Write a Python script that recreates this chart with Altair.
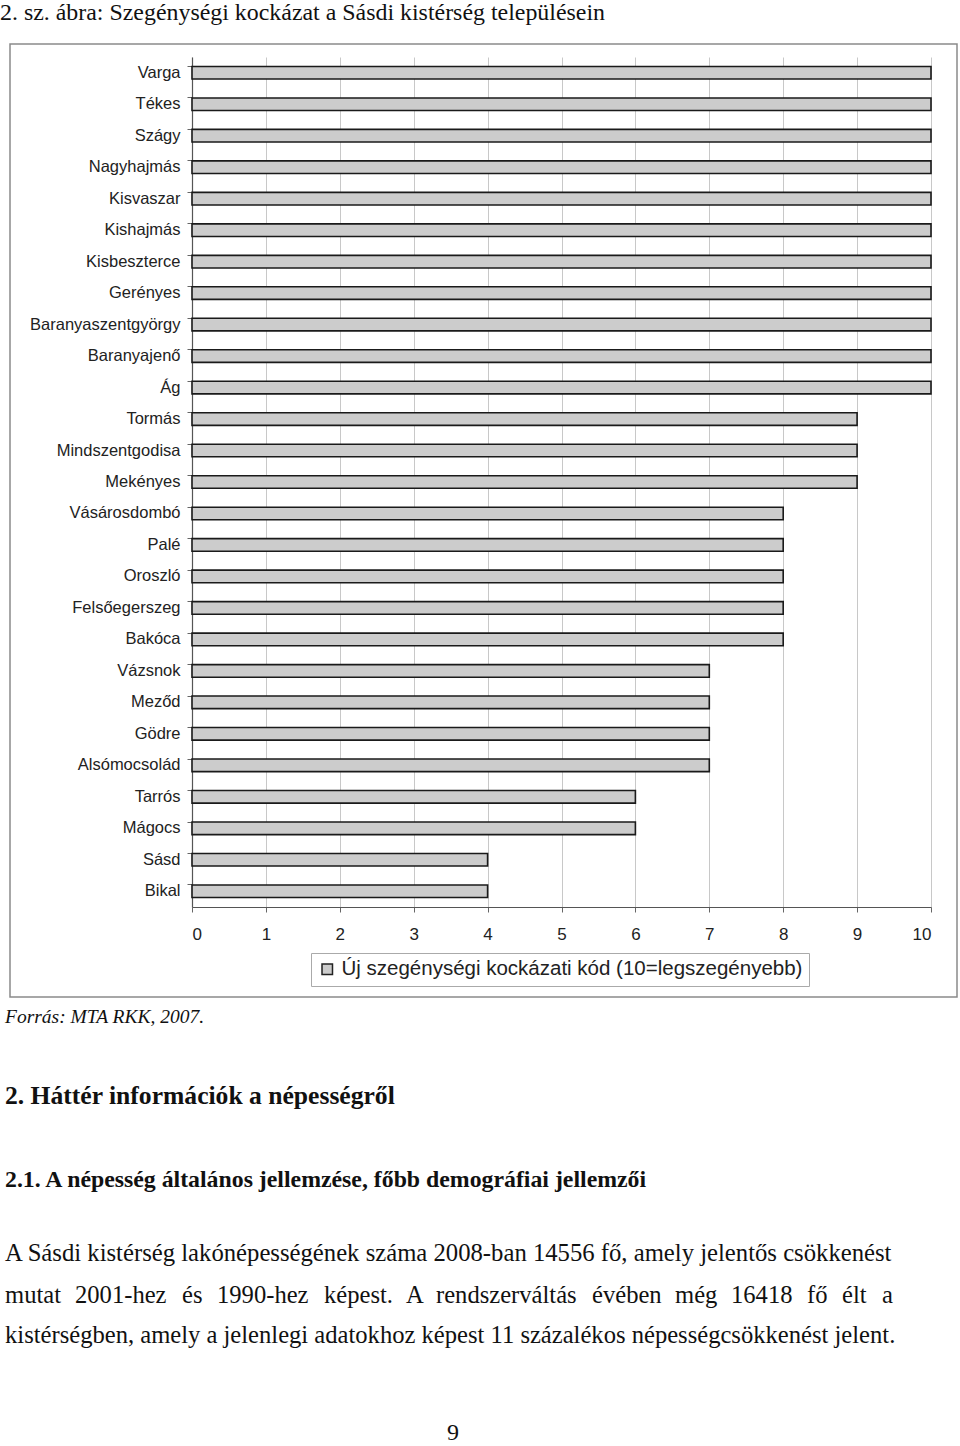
import altair as alt
import pandas as pd

# ---- data ----
towns = ["Varga", "Tékes", "Szágy", "Nagyhajmás", "Kisvaszar", "Kishajmás",
         "Kisbeszterce", "Gerényes", "Baranyaszentgyörgy", "Baranyajenő", "Ág",
         "Tormás", "Mindszentgodisa", "Mekényes", "Vásárosdombó", "Palé",
         "Oroszló", "Felsőegerszeg", "Bakóca", "Vázsnok", "Meződ", "Gödre",
         "Alsómocsolád", "Tarrós", "Mágocs", "Sásd", "Bikal"]
codes = [10, 10, 10, 10, 10, 10, 10, 10, 10, 10, 10,
         9, 9, 9, 8, 8, 8, 8, 8, 7, 7, 7, 7, 6, 6, 4, 4]
series_name = "Új szegénységi kockázati kód (10=legszegényebb)"
x_ticks = list(range(0, 11))

title_text = "2. sz. ábra: Szegénységi kockázat a Sásdi kistérség településein"
source_text = "Forrás: MTA RKK, 2007."
heading1 = "2. Háttér információk a népességről"
heading2 = "2.1. A népesség általános jellemzése, főbb demográfiai jellemzői"
para_line1 = "A Sásdi kistérség lakónépességének száma 2008-ban 14556 fő, amely jelentős csökkenést"
para_line2_words = ["mutat", "2001-hez", "és", "1990-hez", "képest.", "A", "rendszerváltás",
                    "évében", "még", "16418", "fő", "élt", "a"]
para_line2_x = [5, 75, 182, 217, 324, 406, 436, 592, 675, 731, 807, 842, 882]
para_line3 = "kistérségben, amely a jelenlegi adatokhoz képest 11 százalékos népességcsökkenést jelent."
page_no = "9"

df = pd.DataFrame({"town": towns, "code": codes, "series": [series_name] * len(towns)})

# plot area on the page
L, T, W, H = 192, 57, 739, 850
PAGE_W, PAGE_H = 960, 1446

serif = "Liberation Serif"
sans = "Liberation Sans"

bars = alt.Chart(df).mark_bar(stroke="#1a1a1a", strokeWidth=1.6).encode(
    y=alt.Y("town:N", sort=None, title=None,
            scale=alt.Scale(paddingInner=0.6, paddingOuter=0.3),
            axis=alt.Axis(bandPosition=0, labelFont=sans, labelFontSize=16.5,
                          labelColor="#222", labelPadding=7, tickSize=5,
                          tickColor="#666", domainColor="#555", domainWidth=1.2,
                          grid=False)),
    x=alt.X("code:Q", title=None,
            scale=alt.Scale(domain=[0, 10], nice=False),
            axis=alt.Axis(values=x_ticks, labelFont=sans, labelFontSize=17,
                          labelColor="#222", labelPadding=14, tickSize=5,
                          tickColor="#666", domainColor="#555", domainWidth=1.2,
                          grid=True, gridColor="#c8c8c8", gridWidth=1)),
    color=alt.Color("series:N", title=None,
                    scale=alt.Scale(range=["#cccccc"]),
                    legend=alt.Legend(orient="none", legendX=119, legendY=896,
                                      symbolType="square", symbolSize=110,
                                      symbolStrokeColor="#222", symbolStrokeWidth=1.5,
                                      labelFont=sans, labelFontSize=20.5, labelLimit=0,
                                      labelColor="#222", padding=6,
                                      strokeColor="#aaaaaa", fillColor="white")),
)

dummy = pd.DataFrame({"a": [0]})

frame = alt.Chart(dummy).mark_rect(fillOpacity=0, stroke="#8a8a8a", strokeWidth=1.5).encode(
    x=alt.value(10 - L), x2=alt.value(957 - L),
    y=alt.value(44 - T), y2=alt.value(997 - T),
)


def txt(text, px, py, size, font=serif, weight="normal", style="normal", align="left"):
    return alt.Chart(dummy).mark_text(
        text=text, font=font, fontSize=size, fontWeight=weight, fontStyle=style,
        align=align, baseline="middle", color="#111",
    ).encode(x=alt.value(px - L), y=alt.value(py - T))


layers = [frame, bars,
          txt(title_text, 0, 13, 23.9),
          txt(source_text, 5, 1017, 19.5, style="italic"),
          txt(heading1, 5, 1096, 25.6, weight="bold"),
          txt(heading2, 5, 1180, 23.8, weight="bold"),
          txt(para_line1, 5, 1254, 24.7),
          txt(para_line3, 5, 1336, 24.6),
          txt(page_no, 447, 1433, 24)]
for w, xx in zip(para_line2_words, para_line2_x):
    layers.append(txt(w, xx, 1296, 24.6))

chart = alt.layer(*layers).properties(
    width=W, height=H,
    autosize=alt.AutoSizeParams(type="none"),
    padding={"left": L, "top": T, "right": PAGE_W - L - W, "bottom": PAGE_H - T - H},
    background="white",
).configure_view(stroke=None)

chart.save("out.html", embed_options={"renderer": "svg", "actions": False})
